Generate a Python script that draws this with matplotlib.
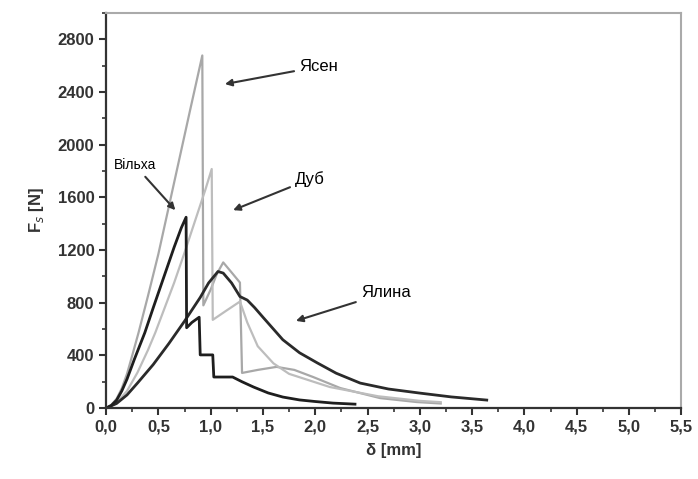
import numpy as np
import matplotlib
matplotlib.use("Agg")
import matplotlib.pyplot as plt
from matplotlib.ticker import MultipleLocator, FuncFormatter

plt.rcParams['font.family'] = ['Liberation Sans', 'DejaVu Sans']

# Ясен (ash)
ash_x = [0, 0.05, 0.1, 0.15, 0.2, 0.25, 0.31, 0.4, 0.5, 0.6, 0.7, 0.8, 0.92,
         0.93, 1.0, 1.06, 1.12, 1.2, 1.28, 1.30,
         1.45, 1.63, 1.8, 1.98, 2.24, 2.62, 2.97, 3.2]
ash_y = [0, 25, 70, 150, 260, 400, 572, 850, 1170, 1530, 1890, 2250, 2677,
         780, 900, 1020, 1106, 1030, 953, 267,
         290, 313, 290, 236, 152, 76, 46, 35]

# Дуб (oak)
oak_x = [0, 0.1, 0.2, 0.3, 0.4, 0.47, 0.55, 0.65, 0.75, 0.85, 0.95, 1.01,
         1.02, 1.15, 1.28, 1.35, 1.45, 1.6, 1.75, 2.14, 2.6, 3.0, 3.2]
oak_y = [0, 40, 130, 270, 440, 572, 740, 950, 1180, 1420, 1660, 1815,
         670, 740, 809, 650, 470, 340, 260, 160, 90, 55, 45]

# Вільха (alder)
alder_x = [0, 0.05, 0.1, 0.15, 0.2, 0.27, 0.37, 0.45, 0.55, 0.65, 0.72, 0.765,
           0.77, 0.82, 0.89, 0.90, 1.02, 1.03, 1.21, 1.3, 1.41, 1.55, 1.69,
           1.85, 2.0, 2.17, 2.38]
alder_y = [0, 20, 60, 130, 220, 370, 572, 760, 990, 1220, 1370, 1449,
           610, 650, 690, 404, 404, 236, 236, 200, 160, 115, 84,
           62, 50, 38, 30]

# Ялина (spruce)
spruce_x = [0, 0.1, 0.2, 0.3, 0.45, 0.6, 0.75, 0.9, 0.98, 1.07, 1.12, 1.2, 1.28,
            1.35, 1.42, 1.5, 1.6, 1.69, 1.85, 2.02, 2.2, 2.43, 2.7, 3.0, 3.3, 3.64]
spruce_y = [0, 35, 100, 190, 330, 490, 660, 840, 950, 1037, 1025, 950, 847,
            820, 763, 690, 600, 519, 420, 343, 265, 190, 145, 114, 85, 61]

fig = plt.figure(figsize=(6.98, 4.79), dpi=100)
ax = fig.add_axes([0.152, 0.148, 0.824, 0.825])

ax.plot(ash_x, ash_y, color='#a8a8a8', lw=1.6)
ax.plot(oak_x, oak_y, color='#bdbdbd', lw=1.6)
ax.plot(spruce_x, spruce_y, color='#2a2a2a', lw=2.0)
ax.plot(alder_x, alder_y, color='#1e1e1e', lw=2.0)

arrow = dict(arrowstyle='-|>', color='#333333', lw=1.5, mutation_scale=10)
ax.annotate('Ясен', xy=(1.11, 2456), xytext=(1.85, 2593), fontsize=12,
            va='center', ha='left', arrowprops=arrow)
ax.annotate('Дуб', xy=(1.19, 1495), xytext=(1.81, 1739), fontsize=12,
            va='center', ha='left', arrowprops=arrow)
ax.annotate('Ялина', xy=(1.79, 656), xytext=(2.44, 877), fontsize=12,
            va='center', ha='left', arrowprops=arrow)
ax.annotate('Вільха', xy=(0.68, 1487), xytext=(0.07, 1846), fontsize=10,
            va='center', ha='left', arrowprops=arrow)

ax.set_xlim(0, 5.5)
ax.set_ylim(0, 3000)
ax.xaxis.set_major_locator(MultipleLocator(0.5))
ax.xaxis.set_minor_locator(MultipleLocator(0.25))
ax.yaxis.set_major_locator(MultipleLocator(400))
ax.yaxis.set_minor_locator(MultipleLocator(200))
ax.set_yticks(np.arange(0, 2801, 400))
ax.xaxis.set_major_formatter(FuncFormatter(lambda v, p: ('%.1f' % v).replace('.', ',')))

ax.tick_params(which='major', direction='out', length=5, width=1.5, labelsize=12,
               colors='#333333')
ax.tick_params(which='minor', direction='out', length=3, width=1.2, colors='#333333')
for lab in ax.get_xticklabels() + ax.get_yticklabels():
    lab.set_fontweight('bold')

for s in ['left', 'bottom']:
    ax.spines[s].set_color('#333333')
    ax.spines[s].set_linewidth(1.6)
for s in ['top', 'right']:
    ax.spines[s].set_color('#aaaaaa')
    ax.spines[s].set_linewidth(1.5)

ax.set_xlabel('δ [mm]', fontsize=12, color='#333333', labelpad=6, fontweight='bold')
ax.set_ylabel('F$_s$ [N]', fontsize=12, color='#333333', labelpad=8, fontweight='bold')

fig.savefig('out.png', dpi=100)
